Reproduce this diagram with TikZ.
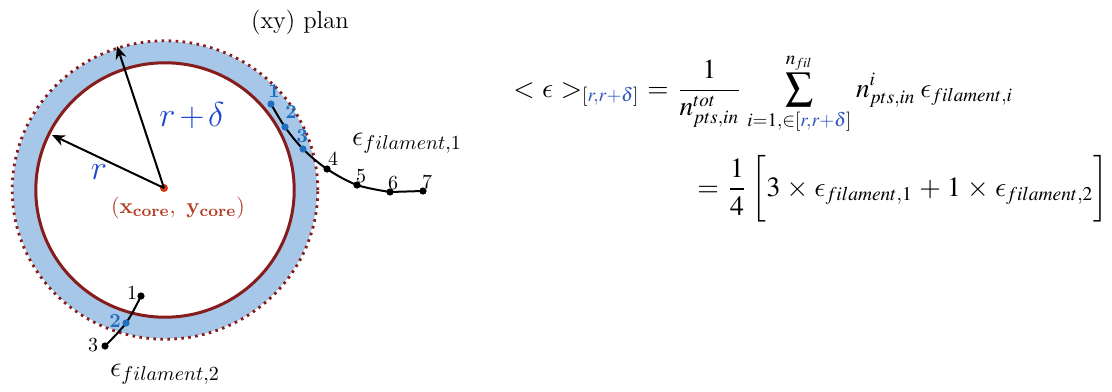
\documentclass[tikz,border=0pt]{standalone}
\usepackage{graphicx}
\usepackage{xcolor}
\usetikzlibrary{arrows.meta}
\DeclareMathVersion{times}
\SetSymbolFont{operators}{times}{OT1}{ztmcm}{m}{n}
\SetSymbolFont{letters}{times}{OML}{ztmcm}{m}{it}
\SetSymbolFont{symbols}{times}{OMS}{ztmcm}{m}{n}
\SetSymbolFont{largesymbols}{times}{OMX}{ztmcm}{m}{n}
\DeclareSymbolFont{cmlet}{OML}{cmm}{m}{it}
\DeclareMathSymbol{\lunate}{\mathord}{cmlet}{"0F}
\definecolor{maroon}{RGB}{135,28,28}
\definecolor{ringblue}{RGB}{166,199,231}
\definecolor{rblue}{RGB}{30,72,205}
\definecolor{numblue}{RGB}{32,110,192}
\definecolor{corered}{RGB}{180,62,38}
\definecolor{dotred}{RGB}{215,55,20}
\definecolor{eqblue}{RGB}{50,85,190}
\tikzset{
  fil/.style={line width=1pt, black},
  bdot/.style={circle, fill=black, inner sep=0pt, minimum size=3.6pt},
  udot/.style={circle, fill=numblue, inner sep=0pt, minimum size=3.6pt},
  num/.style={inner sep=0pt, font=\fontsize{10}{12}\selectfont},
  bnum/.style={inner sep=0pt, text=numblue, font=\fontsize{10}{12}\selectfont\bfseries},
  arr/.style={line width=1pt, -{Stealth[length=6.5pt,width=5.5pt]}},
  lab/.style={inner sep=0pt},
}
\begin{document}
\begin{tikzpicture}[x=0.5pt,y=-0.5pt]
\useasboundingbox (0,0) rectangle (1112,391);
% rings
\coordinate (C) at (165,190);
\fill[ringblue] (C) ellipse [x radius=76pt, y radius=74.3pt];
\fill[white] (C) ellipse [x radius=64.6pt, y radius=63.6pt];
\draw[maroon, line width=1.5pt] (C) ellipse [x radius=64.6pt, y radius=63.6pt];
\draw[maroon, line width=1.4pt, dash pattern=on 1.3pt off 2.2pt] (C) ellipse [x radius=76.4pt, y radius=74.6pt];
% radii
\coordinate (A1) at (52,135);
\coordinate (A2) at (117,46);
\node[circle, fill=dotred, inner sep=0pt, minimum size=4pt] (ctr) at (164,188) {};
\draw[arr] (ctr.center) -- (A1);
\draw[arr] (ctr.center) -- (A2);
\node[lab, text=rblue, font=\fontsize{18}{20}\selectfont] (lr) at (99,172) {$r$};
\node[lab, text=rblue, font=\fontsize{16.5}{19}\selectfont] (lrd) at (192,116) {${r}\mskip2mu{+}\mskip2mu\delta$};
\node[lab, text=corered, font=\fontsize{11}{13}\selectfont] (lc) at (178,208) {$\mathbf{(x_{core},\ y_{core})}$};
\node[lab, font=\fontsize{12.3}{14}\selectfont] (plan) at (300,22) {(xy)\ plan};
% filament 1
\coordinate (f1) at (271,104);
\coordinate (f2) at (285,127);
\coordinate (f3) at (303,149);
\coordinate (f4) at (327,169);
\coordinate (f5) at (357,185);
\coordinate (f6) at (390,192);
\coordinate (f7) at (423,191);
\draw[fil] plot[smooth, tension=0.55] coordinates {(f1) (f2) (f3) (f4) (f5) (f6)} -- (f7);
\foreach \p in {f1,f2,f3} \node[udot] at (\p) {};
\foreach \p in {f4,f5,f6,f7} \node[bdot] at (\p) {};
\node[bnum] (n1) at (274,91) {1};
\node[bnum] (n2) at (291,112) {2};
\node[bnum] (n3) at (302,136) {3};
\node[num] (n4) at (333,159) {4};
\node[num] (n5) at (361,176) {5};
\node[num] (n6) at (393,183) {6};
\node[num] (n7) at (427,182) {7};
\node[lab, font=\fontsize{14}{16}\selectfont] (e1) at (407,143) {$\epsilon_{filament,1}$};
% filament 2
\coordinate (g1) at (141,296);
\coordinate (g2) at (126,323);
\coordinate (g3) at (105,346);
\draw[fil] plot[smooth, tension=0.6] coordinates {(g1) (g2) (g3)};
\node[bdot] at (g1) {};
\node[udot] at (g2) {};
\node[bdot] at (g3) {};
\node[num] (m1) at (132,293) {1};
\node[bnum] (m2) at (115,321) {2};
\node[num] (m3) at (93,345) {3};
\node[lab, font=\fontsize{14}{16}\selectfont] (e2) at (165,374) {$\epsilon_{filament,2}$};
% equations
\node[anchor=base west, inner sep=0pt] (eq1) at (513,97) {\resizebox{250pt}{!}{\mathversion{times}$\displaystyle {<}\;\lunate\;{>}_{[{\color{eqblue}r,r+\delta}]}=\frac{1}{n^{tot}_{pts,in}}\sum_{i=1,\in[{\color{eqblue}r,r+\delta}]}^{n_{fil}} n^{i}_{pts,in}\,\lunate_{filament,i}$}};
\node[anchor=base west, inner sep=0pt] (eq2) at (697,196) {\resizebox{205.5pt}{!}{\mathversion{times}$\displaystyle =\frac{1}{4}\,\biggl[3\times\lunate_{filament,1}+1\times\lunate_{filament,2}\biggr]$}};
\end{tikzpicture}
\end{document}
